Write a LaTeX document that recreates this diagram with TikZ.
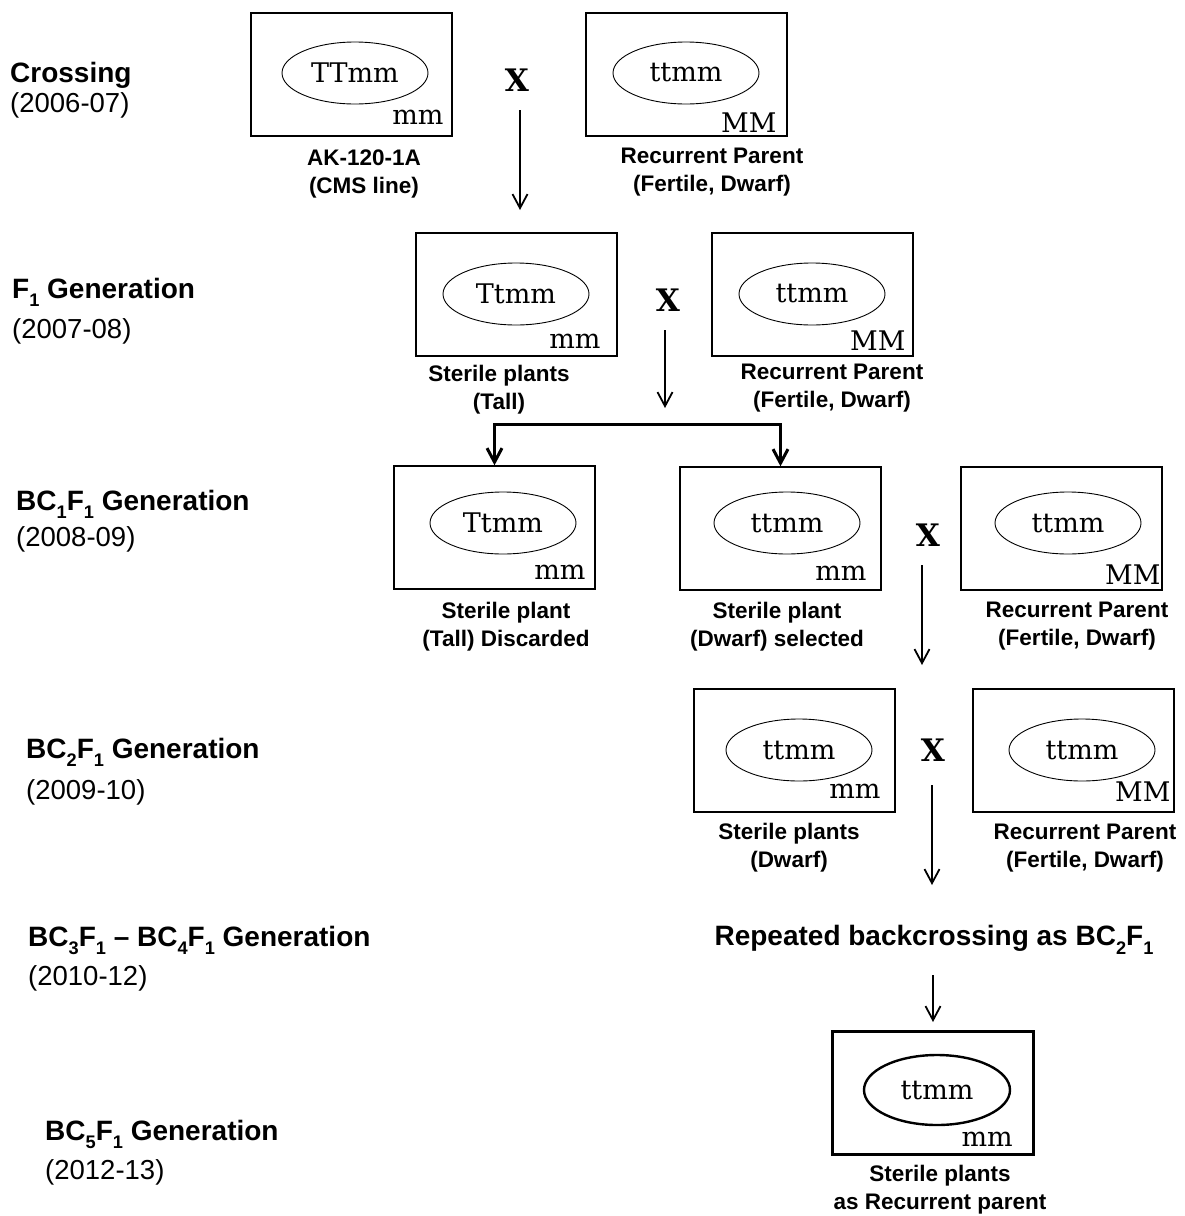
\documentclass[tikz,border=0pt]{standalone}
\usepackage{fontspec}
\setmainfont{Liberation Sans}
\newfontfamily\gt{DejaVu Serif}
\usetikzlibrary{arrows.meta,shapes.geometric}
\newcommand{\lowsub}[1]{\raisebox{-0.3em}{\fontsize{0.65em}{1em}\selectfont #1}}
\begin{document}
\begin{tikzpicture}[x=1pt,y=-1pt,
 plant/.style={draw, line width=1.4pt, minimum width=201pt, minimum height=123pt, inner sep=0},
 geno/.style={draw, ellipse, line width=0.9pt, minimum width=146pt, minimum height=62pt, inner sep=0, font=\gt\fontsize{27}{30}\selectfont},
 corner/.style={font=\gt\fontsize{27}{30}\selectfont, inner sep=0, anchor=base east},
 lbl/.style={font=\bfseries\fontsize{22.5}{28}\selectfont, align=center, inner sep=0},
 gen/.style={font=\bfseries\fontsize{28}{30}\selectfont, anchor=base west, inner sep=0},
 year/.style={font=\fontsize{27.5}{30}\selectfont, anchor=base west, inner sep=0},
 cross/.style={font=\gt\bfseries\fontsize{31}{31}\selectfont, inner sep=0},
 arr/.style={-{Straight Barb[length=14pt,width=15pt]}, line width=1.8pt},
 barr/.style={{Straight Barb[length=14pt,width=15pt]}-{Straight Barb[length=14pt,width=15pt]}, line width=3pt},
]
\path[use as bounding box] (0,0) rectangle (1184,1216);

% left generation labels
\node[gen]  (g0)  at (10,82)  {Crossing};
\node[year] (y0)  at (10,112) {(2006-07)};
\node[gen]  (g1)  at (12,298) {F\lowsub{1} Generation};
\node[year] (y1)  at (12,338) {(2007-08)};
\node[gen]  (g2)  at (16,510) {BC\lowsub{1}F\lowsub{1} Generation};
\node[year] (y2)  at (16,546) {(2008-09)};
\node[gen]  (g3)  at (26,758) {BC\lowsub{2}F\lowsub{1} Generation};
\node[year] (y3)  at (26,799) {(2009-10)};
\node[gen]  (g4)  at (28,946) {BC\lowsub{3}F\lowsub{1} -- BC\lowsub{4}F\lowsub{1} Generation};
\node[year] (y4)  at (28,985) {(2010-12)};
\node[gen]  (g5)  at (45,1140) {BC\lowsub{5}F\lowsub{1} Generation};
\node[year] (y5)  at (45,1179) {(2012-13)};

% Row 1
\node[plant] (A) at (351.5,74.5) {};
\node[geno] (eA) at (355,73) {TTmm};
\node[corner] (cA) at ([shift={(-9,-12)}]A.south east) {mm};
\node[lbl] (lA) at (364,174) {AK-120-1A\\(CMS line)};
\node[cross] (xA) at (517,80) {X};
\node[plant] (B) at (686.5,74.5) {};
\node[geno] (eB) at (686,73) {ttmm};
\node[corner] (cB) at ([shift={(-11,-4)}]B.south east) {MM};
\node[lbl] (lB) at (712,172) {Recurrent Parent\\(Fertile, Dwarf)};
\coordinate (a1s) at (520,110);
\coordinate (a1e) at (520,210);
\draw[arr] (a1s) -- (a1e);

% Row 2
\node[plant] (C) at (516.5,294.5) {};
\node[geno] (eC) at (516,294) {Ttmm};
\node[corner] (cC) at ([shift={(-17,-8)}]C.south east) {mm};
\node[lbl] (lC) at (499,390) {Sterile plants\\(Tall)};
\node[cross] (xC) at (668,300) {X};
\node[plant] (D) at (812.5,294.5) {};
\node[geno] (eD) at (812,294) {ttmm};
\node[corner] (cD) at ([shift={(-8,-6)}]D.south east) {MM};
\node[lbl] (lD) at (832,388) {Recurrent Parent\\(Fertile, Dwarf)};
\coordinate (a2s) at (665,330);
\coordinate (a2e) at (665,408);
\draw[arr] (a2s) -- (a2e);

% Row 3
\node[plant] (E) at (494.5,527.5) {};
\node[geno] (eE) at (503,523) {Ttmm};
\node[corner] (cE) at ([shift={(-10,-10)}]E.south east) {mm};
\node[lbl] (lE) at (506,627) {Sterile plant\\(Tall) Discarded};
\node[plant] (F) at (780.5,528.5) {};
\node[geno] (eF) at (787,523) {ttmm};
\node[corner] (cF) at ([shift={(-15,-10)}]F.south east) {mm};
\node[lbl] (lF) at (777,627) {Sterile plant\\(Dwarf) selected};
\node[cross] (xF) at (928,535) {X};
\node[plant] (G) at (1061.5,528.5) {};
\node[geno] (eG) at (1068,523) {ttmm};
\node[corner] (cG) at ([shift={(-2,-6)}]G.south east) {MM};
\node[lbl] (lG) at (1077,626) {Recurrent Parent\\(Fertile, Dwarf)};
\draw[barr] (E.north) -- ++(0,-41) -| (F.north);
\coordinate (a3s) at (922,565);
\coordinate (a3e) at (922,665);
\draw[arr] (a3s) -- (a3e);

% Row 4
\node[plant] (H) at (794.5,750.5) {};
\node[geno] (eH) at (799,750) {ttmm};
\node[corner] (cH) at ([shift={(-15,-14)}]H.south east) {mm};
\node[lbl] (lH) at (789,848) {Sterile plants\\(Dwarf)};
\node[cross] (xH) at (933,750) {X};
\node[plant] (I) at (1073.5,750.5) {};
\node[geno] (eI) at (1082,750) {ttmm};
\node[corner] (cI) at ([shift={(-4,-11)}]I.south east) {MM};
\node[lbl] (lI) at (1085,848) {Recurrent Parent\\(Fertile, Dwarf)};
\coordinate (a4s) at (932,785);
\coordinate (a4e) at (932,885);
\draw[arr] (a4s) -- (a4e);

% Row 5
\node[font=\bfseries\fontsize{28}{30}\selectfont, inner sep=0] (rep) at (934,940) {Repeated backcrossing as BC\lowsub{2}F\lowsub{1}};
\coordinate (a5s) at (933,975);
\coordinate (a5e) at (933,1022);
\draw[arr] (a5s) -- (a5e);

% Row 6
\node[plant, line width=3pt] (J) at (933,1093) {};
\node[geno, line width=2.4pt, minimum width=146pt, minimum height=70pt] (eJ) at (937,1090) {ttmm};
\node[corner] (cJ) at ([shift={(-22,-10)}]J.south east) {mm};
\node[lbl] (lJ) at (940,1190) {Sterile plants\\as Recurrent parent};
\end{tikzpicture}
\end{document}
